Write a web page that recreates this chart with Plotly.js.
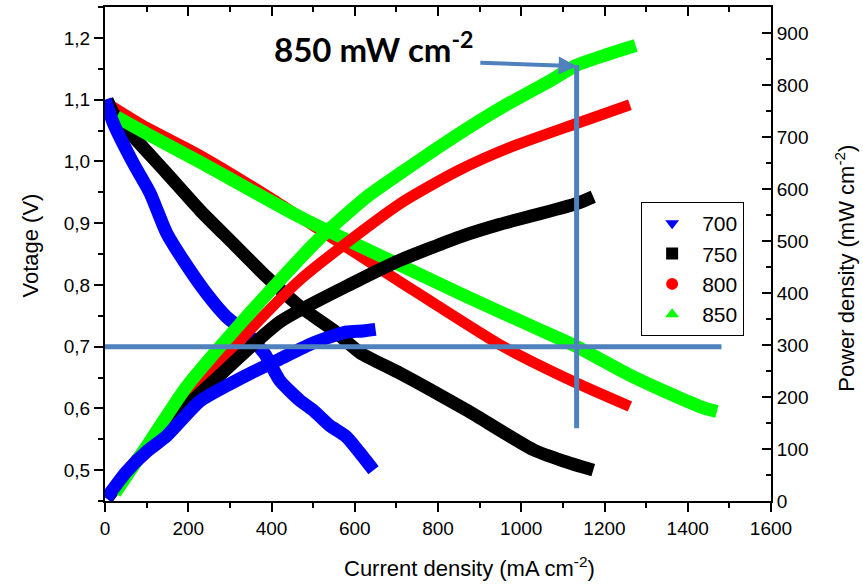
<!DOCTYPE html>
<html>
<head>
<meta charset="utf-8">
<script src="https://cdn.plot.ly/plotly-3.0.1.min.js"></script>
<style>
html,body{margin:0;padding:0;background:#fff;}
#chart{width:863px;height:584px;}
</style>
</head>
<body>
<div id="chart"></div>
<script>
// ---- Data ----
const seriesNames = ['700', '750', '800', '850'];

// 700 °C
const current700V = [0, 20, 68, 108, 148, 188, 244, 292, 340, 384, 420, 468, 500, 540, 580, 610, 645];
const voltage700  = [1.100, 1.062, 0.997, 0.949, 0.884, 0.840, 0.786, 0.748, 0.722, 0.688, 0.645, 0.613, 0.597, 0.572, 0.554, 0.530, 0.500];
const current700P = [3, 50, 100, 148, 228, 300, 348, 420, 500, 580, 620, 650];
const power700    = [5, 55, 95, 125, 192, 225, 245, 273, 304, 325, 327, 330];

// 750 °C
const current750V = [5, 20, 68, 148, 228, 308, 388, 468, 548, 613, 709, 869, 1029, 1100, 1173];
const voltage750  = [1.100, 1.078, 1.040, 0.981, 0.921, 0.867, 0.813, 0.765, 0.727, 0.690, 0.657, 0.597, 0.533, 0.515, 0.500];
const current750P = [5, 50, 148, 268, 421, 600, 709, 853, 949, 1133, 1173];
const power750    = [5, 52, 145, 236, 345, 421, 463, 508, 532, 572, 585];

// 800 °C
const current800V = [15, 100, 228, 400, 500, 709, 949, 1133, 1261];
const voltage800  = [1.090, 1.055, 1.010, 0.940, 0.896, 0.805, 0.703, 0.641, 0.603];
const current800P = [15, 100, 244, 468, 709, 850, 973, 1133, 1261];
const power800    = [15, 105, 240, 425, 572, 636, 680, 726, 762];

// 850 °C
const current850V = [28, 100, 228, 468, 709, 869, 1029, 1133, 1269, 1429, 1470];
const voltage850  = [1.072, 1.045, 0.999, 0.910, 0.832, 0.781, 0.732, 0.700, 0.651, 0.603, 0.595];
const current850P = [24, 100, 196, 324, 509, 629, 709, 829, 949, 1069, 1133, 1200, 1275];
const power850    = [15, 105, 220, 340, 500, 585, 630, 695, 755, 808, 838, 857, 876];

// reference marks (data units)
const refVoltage = 0.7;
const refLineEndCurrent = 1481;
const refCurrent = 1133;
const refLineTopVoltage = 1.156;
const refLineBottomVoltage = 0.568;
const peakLabel = '<b>850 mW cm<sup>-2</sup></b>';
const arrowTip = {current: 1133, power: 836};
const arrowTail = {current: 898, power: 843};
const labelPos = {current: 401, voltage: 1.185};

// axis titles
const xTitle = 'Current density (mA cm<sup>-2</sup>)';
const yTitle = 'Votage (V)';
const y2Title = 'Power density (mW cm<sup>-2</sup>)';

// ---- Styles ----
const colors = ['#0000FF', '#000000', '#FF0000', '#00FF00'];
const symbols = ['triangle-down', 'square', 'circle', 'triangle-up'];
const widths = [13, 13, 11, 13];
const refColor = '#4F81BD';
const font = 'Arial, "Liberation Sans", sans-serif';

const vData = [[current700V, voltage700], [current750V, voltage750], [current800V, voltage800], [current850V, voltage850]];
const pData = [[current700P, power700], [current750P, power750], [current800P, power800], [current850P, power850]];

const drawOrder = [2, 1, 3, 0];
const traces = [];
drawOrder.forEach(i => {
  traces.push({x: pData[i][0], y: pData[i][1], yaxis: 'y2', mode: 'lines', type: 'scatter',
    line: {color: colors[i], width: widths[i], shape: 'spline', smoothing: 0.6}, showlegend: false, hoverinfo: 'skip'});
});
drawOrder.forEach(i => {
  traces.push({x: vData[i][0], y: vData[i][1], mode: 'lines', type: 'scatter',
    line: {color: colors[i], width: widths[i], shape: 'spline', smoothing: 0.6}, showlegend: false, hoverinfo: 'skip'});
});
// legend entries
seriesNames.forEach((n, i) => {
  traces.push({x: [null], y: [null], mode: 'markers', type: 'scatter', name: n,
    marker: {color: colors[i], symbol: symbols[i], size: 12}, hoverinfo: 'skip'});
});
// carrier for top axis
traces.push({x: [null], y: [null], xaxis: 'x2', mode: 'markers', showlegend: false, hoverinfo: 'skip'});

const axisCommon = {showgrid: false, zeroline: false, showline: true, linecolor: '#000', linewidth: 2,
  tickcolor: '#000', tickwidth: 2, ticklen: 9, tickfont: {family: font, size: 19, color: '#000'}};
const titleFont = {family: font, size: 22, color: '#000'};

const layout = {
  width: 863, height: 584,
  margin: {l: 105, r: 92, t: 7, b: 83},
  paper_bgcolor: '#fff', plot_bgcolor: '#fff',
  separators: ', ',
  font: {family: font, color: '#000'},
  xaxis: Object.assign({}, axisCommon, {range: [0, 1600], dtick: 200, ticks: 'outside',
    minor: {dtick: 100, ticks: 'outside', ticklen: 5, tickcolor: '#000', tickwidth: 2}}),
  xaxis2: Object.assign({}, axisCommon, {range: [0, 1600], dtick: 200, ticks: 'inside', overlaying: 'x', side: 'top', anchor: 'y',
    showticklabels: false, minor: {dtick: 100, ticks: 'inside', ticklen: 5, tickcolor: '#000', tickwidth: 2}}),
  yaxis: Object.assign({}, axisCommon, {range: [0.45, 1.25], dtick: 0.1, tick0: 0.5, ticks: 'outside', tickformat: '.1f',
    minor: {dtick: 0.05, ticks: 'outside', ticklen: 5, tickcolor: '#000', tickwidth: 2}}),
  yaxis2: Object.assign({}, axisCommon, {range: [0, 950], dtick: 100, ticks: 'inside', overlaying: 'y', side: 'right', anchor: 'x',
    minor: {dtick: 50, ticks: 'inside', ticklen: 5, tickcolor: '#000', tickwidth: 2}}),
  legend: {x: 0.805, y: 0.605, xanchor: 'left', yanchor: 'top', bgcolor: '#fff', bordercolor: '#000', borderwidth: 1,
    font: {family: font, size: 21, color: '#000'}, itemwidth: 50, traceorder: 'normal'},
  shapes: [
    {type: 'line', xref: 'x', yref: 'y', x0: 0, x1: refLineEndCurrent, y0: refVoltage, y1: refVoltage,
      line: {color: refColor, width: 5}},
    {type: 'line', xref: 'x', yref: 'y', x0: refCurrent, x1: refCurrent, y0: refLineBottomVoltage, y1: refLineTopVoltage,
      line: {color: refColor, width: 5}}
  ],
  annotations: [
    {xref: 'x', yref: 'y', x: labelPos.current, y: labelPos.voltage, xanchor: 'left', yanchor: 'middle',
      text: peakLabel, showarrow: false, font: {family: 'Lato, "Open Sans", sans-serif', size: 33, color: '#000'}},
    {xref: 'x', yref: 'y2', axref: 'x', ayref: 'y2', x: arrowTip.current, y: arrowTip.power,
      ax: arrowTail.current, ay: arrowTail.power, showarrow: true, arrowhead: 2, arrowsize: 0.9, arrowwidth: 4,
      arrowcolor: refColor, text: ''},
    {xref: 'paper', yref: 'paper', x: 0.547, y: -0.134, xanchor: 'center', yanchor: 'middle',
      text: xTitle, showarrow: false, font: titleFont},
    {xref: 'paper', yref: 'paper', x: -0.112, y: 0.518, xanchor: 'center', yanchor: 'middle', textangle: -90,
      text: yTitle, showarrow: false, font: titleFont},
    {xref: 'paper', yref: 'paper', x: 1.111, y: 0.472, xanchor: 'center', yanchor: 'middle', textangle: -90,
      text: y2Title, showarrow: false, font: titleFont}
  ]
};

Plotly.newPlot('chart', traces, layout, {displayModeBar: false, staticPlot: true});
</script>
</body>
</html>
